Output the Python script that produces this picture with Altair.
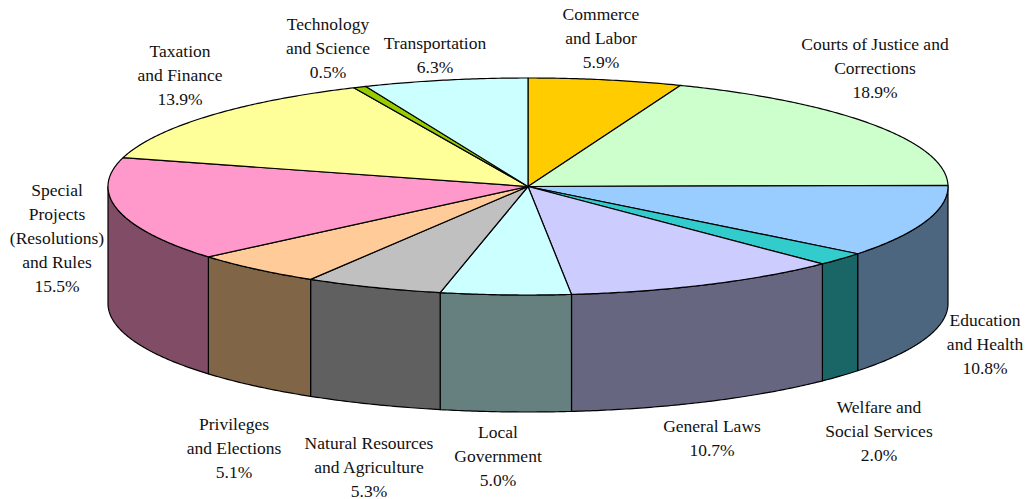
import math
import altair as alt
import pandas as pd

# Committee shares, clockwise from twelve o'clock
categories = ["Commerce and Labor", "Courts of Justice and Corrections", "Education and Health",
              "Welfare and Social Services", "General Laws", "Local Government",
              "Natural Resources and Agriculture", "Privileges and Elections",
              "Special Projects (Resolutions) and Rules", "Taxation and Finance",
              "Technology and Science", "Transportation"]
shares = [5.9, 18.9, 10.8, 2.0, 10.7, 5.0, 5.3, 5.1, 15.5, 13.9, 0.5, 6.3]
label_lines = [["Commerce", "and Labor"], ["Courts of Justice and", "Corrections"],
               ["Education", "and Health"], ["Welfare and", "Social Services"],
               ["General Laws"], ["Local", "Government"],
               ["Natural Resources", "and Agriculture"], ["Privileges", "and Elections"],
               ["Special", "Projects", "(Resolutions)", "and Rules"], ["Taxation", "and Finance"],
               ["Technology", "and Science"], ["Transportation"]]
top_colors = ["#FFCC00", "#CCFFCC", "#99CCFF", "#33CCCC", "#CCCCFF", "#CCFFFF",
              "#C0C0C0", "#FFCC99", "#FF99CC", "#FFFF99", "#99CC00", "#CCFFFF"]
side_colors = ["#806600", "#668066", "#4D6680", "#1A6666", "#666680", "#667F7F",
               "#606060", "#806647", "#804C66", "#80804D", "#4D6600", "#667F7F"]

# Layout of the tilted disc, in pixels
WIDTH, HEIGHT = 1026, 499
CX, CY, RX, RY, DEPTH = 528, 186.5, 420, 108.5, 117
# Label anchors: centre x and first baseline y
label_x = [601, 875, 985, 879, 712, 498, 369, 234, 57, 180, 328, 435]
label_y = [20, 50, 326, 413, 432, 438, 449, 430, 196, 57, 30, 49]


def rim(angle, drop=0.0):
    return [CX + RX * math.sin(angle), CY - RY * math.cos(angle) + drop]


def arc(start, end, drop=0.0):
    steps = max(2, int((end - start) / math.radians(0.5)))
    return [rim(start + (end - start) * i / steps, drop) for i in range(steps + 1)]


def feature(ring, fill):
    return {"type": "Feature", "properties": {"fill": fill},
            "geometry": {"type": "Polygon", "coordinates": [ring + ring[:1]]}}


total = sum(shares)
tops, sides = [], []
running = 0.0
for value, top, side in zip(shares, top_colors, side_colors):
    a0 = 2 * math.pi * running / total
    running += value
    a1 = 2 * math.pi * running / total
    tops.append(feature([[CX, CY]] + arc(a0, a1), top))
    # Only the part of the rim facing the viewer gets a wall
    f0, f1 = max(a0, math.pi / 2), min(a1, 3 * math.pi / 2)
    if f1 > f0:
        sides.append(feature(arc(f0, f1) + arc(f0, f1, DEPTH)[::-1], side))


def disc_layer(features):
    return alt.Chart(alt.Data(values=features)).mark_geoshape(
        stroke="black", strokeWidth=1.2, strokeJoin="round"
    ).encode(fill=alt.Fill("properties.fill:N", scale=None)).project(
        type="identity", scale=1, translate=[0, 0]
    )


labels = pd.DataFrame({
    "category": categories,
    "text": [lines + [f"{v:.1f}%"] for lines, v in zip(label_lines, shares)],
    "x": label_x,
    "y": label_y,
})
text_layer = alt.Chart(labels).mark_text(
    font="Liberation Serif", fontSize=17.5, color="#111111", align="center",
    baseline="alphabetic", lineHeight=24
).encode(
    x=alt.X("x:Q", scale=None),
    y=alt.Y("y:Q", scale=None),
    text="text:N",
)

chart = alt.layer(disc_layer(sides), disc_layer(tops), text_layer).properties(
    width=WIDTH, height=HEIGHT, padding=0, autosize=alt.AutoSizeParams(type="none"),
    background="white"
).configure_view(stroke=None)

chart.save("out.html", embed_options={"renderer": "svg", "actions": False})
